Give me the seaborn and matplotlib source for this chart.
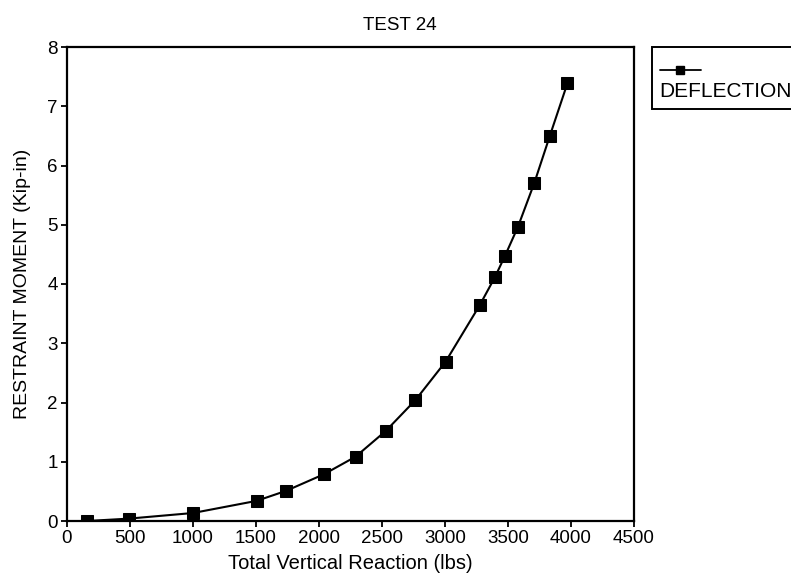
import matplotlib
matplotlib.use('Agg')
import matplotlib.pyplot as plt
import seaborn as sns
import pandas as pd
from matplotlib.lines import Line2D
from matplotlib.offsetbox import DrawingArea, TextArea, VPacker, AnchoredOffsetbox

# Data
reaction = [160, 490, 1000, 1505, 1740, 2040, 2290, 2530, 2765, 3005, 3275, 3395, 3475, 3578, 3708, 3832, 3972]
moment = [0.0, 0.04, 0.135, 0.34, 0.51, 0.79, 1.085, 1.52, 2.04, 2.69, 3.64, 4.11, 4.47, 4.96, 5.70, 6.50, 7.39]
series_name = 'DEFLECTION'
x_ticks = [0, 500, 1000, 1500, 2000, 2500, 3000, 3500, 4000, 4500]
y_ticks = [0, 1, 2, 3, 4, 5, 6, 7, 8]

df = pd.DataFrame({'reaction': reaction, 'moment': moment})

sns.set_style('ticks')
plt.rcParams['font.family'] = ['Liberation Sans', 'DejaVu Sans']
plt.rcParams['text.color'] = 'black'
plt.rcParams['axes.labelcolor'] = 'black'
plt.rcParams['xtick.color'] = 'black'
plt.rcParams['ytick.color'] = 'black'

fig = plt.figure(figsize=(7.91, 5.73), dpi=100)
ax = fig.add_axes([67 / 791, 1 - 521 / 573, (634 - 67) / 791, (521 - 47) / 573])

sns.lineplot(data=df, x='reaction', y='moment', ax=ax, color='black',
             linewidth=1.5, marker='s', markersize=9, markeredgecolor='black',
             markerfacecolor='black', legend=False)

ax.set_xlim(0, 4500)
ax.set_ylim(0, 8)
ax.set_xticks(x_ticks)
ax.set_yticks(y_ticks)
ax.tick_params(axis='both', labelsize=13.5, length=4.5, width=1.3, pad=2, colors='black')
for side in ['left', 'right', 'top', 'bottom']:
    ax.spines[side].set_visible(True)
    ax.spines[side].set_linewidth(1.6)
    ax.spines[side].set_color('black')

ax.set_xlabel('Total Vertical Reaction (lbs)', fontsize=14.5, labelpad=5)
ax.set_ylabel('RESTRAINT MOMENT (Kip-in)', fontsize=14, labelpad=12)
fig.text(0.505, 1 - 26 / 573, 'TEST 24', ha='center', va='center', fontsize=13.5)

# Legend with the handle above the label, as in the reference
da = DrawingArea(30, 14, 0, 0)
da.add_artist(Line2D([0, 30], [3, 3], color='black', linewidth=1.3))
da.add_artist(Line2D([15], [3], color='black', marker='s', markersize=6, linestyle='none'))
ta = TextArea(series_name, textprops=dict(fontsize=15, color='black'))
pack = VPacker(children=[da, ta], align='left', pad=0, sep=6)
box = AnchoredOffsetbox(loc='upper left', child=pack, pad=0.55, borderpad=0, frameon=True,
                        bbox_to_anchor=(652 / 791, 1 - 47 / 573),
                        bbox_transform=fig.transFigure)
box.patch.set_boxstyle('square', pad=0)
box.patch.set_edgecolor('black')
box.patch.set_linewidth(1.4)
fig.add_artist(box)

fig.savefig('out.png', dpi=100, facecolor='white')
